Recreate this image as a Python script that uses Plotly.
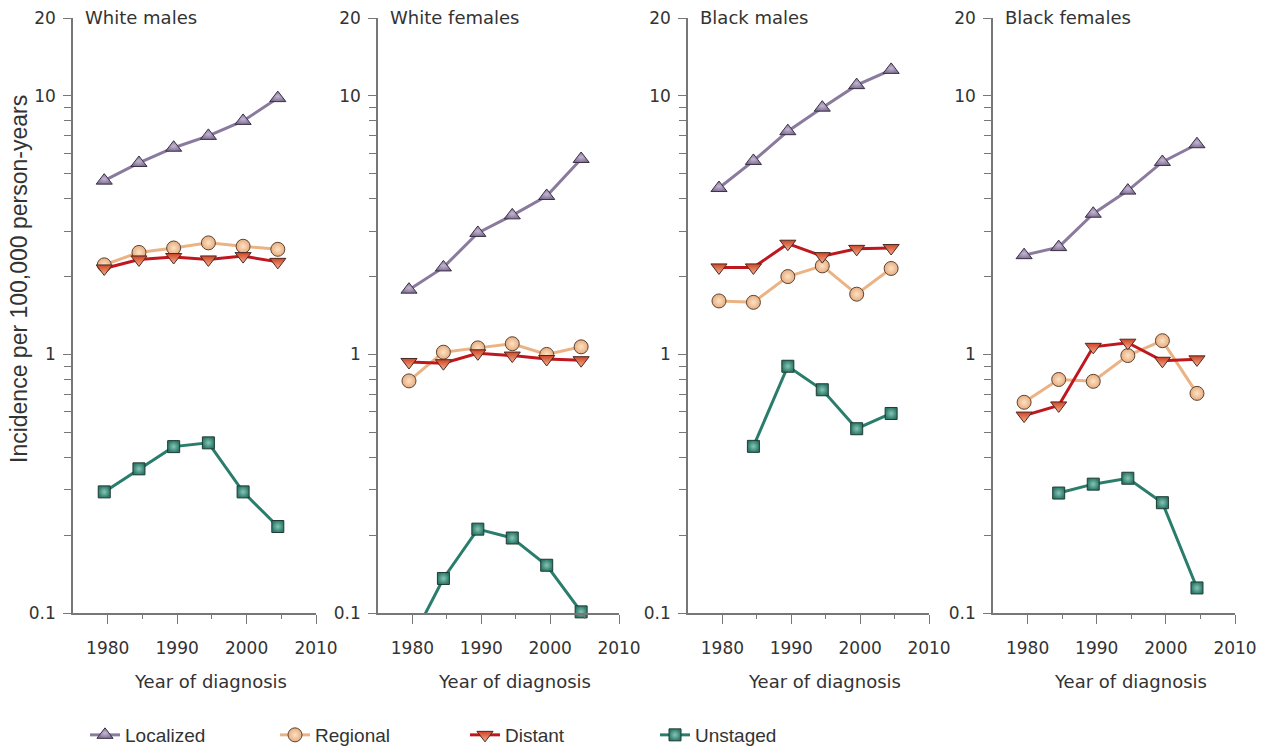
import math
import plotly.graph_objects as go

# ---------------- data ----------------
years = [1979.5, 1984.5, 1989.5, 1994.5, 1999.5, 2004.5]
panels = ["White males", "White females", "Black males", "Black females"]
stages = ["Localized", "Regional", "Distant", "Unstaged"]

white_males = {
    "Localized": [4.7, 5.5, 6.3, 7.0, 8.0, 9.8],
    "Regional": [2.22, 2.48, 2.58, 2.70, 2.62, 2.55],
    "Distant": [2.15, 2.33, 2.38, 2.33, 2.40, 2.28],
    "Unstaged": [0.294, 0.361, 0.44, 0.455, 0.294, 0.216],
}
white_females = {
    "Localized": [1.78, 2.17, 2.95, 3.45, 4.1, 5.7],
    "Regional": [0.79, 1.02, 1.06, 1.10, 1.0, 1.07],
    "Distant": [0.935, 0.925, 1.01, 0.99, 0.96, 0.95],
    "Unstaged": [0.075, 0.136, 0.211, 0.195, 0.153, 0.101],
}
black_males = {
    "Localized": [4.4, 5.6, 7.3, 9.0, 11.0, 12.6],
    "Regional": [1.61, 1.59, 2.0, 2.2, 1.71, 2.15],
    "Distant": [2.17, 2.17, 2.68, 2.40, 2.56, 2.58],
    "Unstaged": [None, 0.441, 0.90, 0.73, 0.516, 0.591],
}
black_females = {
    "Localized": [2.42, 2.6, 3.5, 4.3, 5.55, 6.5],
    "Regional": [0.653, 0.80, 0.787, 0.99, 1.13, 0.707],
    "Distant": [0.58, 0.635, 1.07, 1.11, 0.945, 0.957],
    "Unstaged": [None, 0.291, 0.315, 0.332, 0.267, 0.125],
}
panel_data = [white_males, white_females, black_males, black_females]

x_tick_vals = [1980, 1990, 2000, 2010]
x_minor_vals = [1985, 1995, 2005]
y_tick_vals = [0.1, 1, 10, 20]
y_tick_text = ["0.1", "1", "10", "20"]
y_minor_vals = [0.2, 0.3, 0.4, 0.5, 0.6, 0.7, 0.8, 0.9, 2, 3, 4, 5, 6, 7, 8, 9]

# ---------------- styles ----------------
W, H = 1272, 747
style = {
    "Localized": dict(line="#8a7a9e", symbol="triangle-up", size=14, fill="#827196",
                      grad="#c4b6d2", gtype="radial", outline="#3a3045"),
    "Regional": dict(line="#ebb384", symbol="circle", size=14, fill="#e6ad80",
                     grad="#fde2c4", gtype="radial", outline="#5e4331"),
    "Distant": dict(line="#c0171e", symbol="triangle-down", size=14, fill="#cf4527",
                    grad="#f6b08e", gtype="vertical", outline="#4a2a22"),
    "Unstaged": dict(line="#2a7d6c", symbol="square", size=12, fill="#2d7a6a",
                     grad="#86c6b6", gtype="radial", outline="#1e3a33"),
}

px_domains = [(73, 316), (378, 619), (688, 929), (993, 1235)]
y_top_px, y_bot_px = 18, 613
ydom = [1 - y_bot_px / H, 1 - y_top_px / H]

TICKFONT = dict(family="DejaVu Sans", size=17, color="#333333")
AXCOL = "#777777"

fig = go.Figure()

for i, (pname, data) in enumerate(zip(panels, panel_data)):
    n = "" if i == 0 else str(i + 1)
    for st in stages:
        s = style[st]
        vals = data[st]
        opac = [0 if (v is not None and v < 0.1) else 1 for v in vals]
        fig.add_trace(go.Scatter(
            x=years, y=vals, name=st, mode="lines+markers",
            xaxis="x" + n, yaxis="y" + n,
            legendgroup=st, showlegend=(i == 0),
            cliponaxis=False,
            line=dict(color=s["line"], width=3),
            marker=dict(symbol=s["symbol"], size=s["size"], color=s["fill"],
                        opacity=opac if i == 1 and st == "Unstaged" else 1,
                        gradient=dict(type=s["gtype"], color=s["grad"]),
                        line=dict(color=s["outline"], width=1)),
            connectgaps=False,
        ))
    d0, d1 = px_domains[i]
    fig.layout["xaxis" + n] = dict(
        domain=[d0 / W, d1 / W], range=[1975, 2010], anchor="y" + n, automargin=False,
        tickmode="array", tickvals=x_tick_vals, ticks="outside", ticklen=9,
        tickcolor=AXCOL, tickwidth=1.3, showline=True, linecolor=AXCOL, linewidth=1.5,
        showgrid=False, zeroline=False, tickfont=TICKFONT, ticklabelstandoff=10,
        minor=dict(tickmode="array", tickvals=x_minor_vals, ticks="outside",
                   ticklen=4, tickcolor=AXCOL, tickwidth=1.3, showgrid=False),
    )
    fig.layout["yaxis" + n] = dict(
        domain=ydom, type="log", range=[-1, math.log10(20)], anchor="x" + n, automargin=False,
        tickmode="array", tickvals=y_tick_vals, ticktext=y_tick_text,
        ticks="outside", ticklen=8, tickcolor=AXCOL, tickwidth=1.3,
        showline=True, linecolor=AXCOL, linewidth=1.5,
        showgrid=False, zeroline=False, tickfont=TICKFONT, ticklabelstandoff=4,
        minor=dict(tickmode="array", tickvals=y_minor_vals, ticks="outside",
                   ticklen=7, tickcolor=AXCOL, tickwidth=1.3, showgrid=False),
    )
    # panel title
    fig.add_annotation(text=pname, xref="paper", yref="paper",
                       x=(d0 + 10) / W, y=1 - 18 / H, xanchor="left", yanchor="middle",
                       showarrow=False, font=dict(family="DejaVu Sans", size=18, color="#333333"))
    # x title
    fig.add_annotation(text="Year of diagnosis", xref="paper", yref="paper",
                       x=((d0 + d1) / 2 + 16) / W, y=1 - 681 / H, xanchor="center", yanchor="middle",
                       showarrow=False, font=dict(family="DejaVu Sans", size=18, color="#333333"))

fig.add_annotation(text="Incidence per 100,000 person-years", xref="paper", yref="paper",
                   x=19 / W, y=1 - 279 / H, textangle=-90, xanchor="center", yanchor="middle",
                   showarrow=False, font=dict(family="Liberation Sans", size=23, color="#333333"))

fig.update_layout(
    width=W, height=H,
    margin=dict(l=0, r=0, t=0, b=0, autoexpand=False),
    paper_bgcolor="white", plot_bgcolor="white",
    showlegend=True,
    legend=dict(orientation="h", x=85 / W, y=1 - 735 / H, xanchor="left", yanchor="middle",
                font=dict(family="Liberation Sans", size=19, color="#333333"),
                entrywidth=145, entrywidthmode="pixels", bgcolor="rgba(0,0,0,0)"),
)

fig.write_html("out.html", config={"displayModeBar": False},
               post_script="document.body.style.margin='0';document.body.style.overflow='hidden';")
